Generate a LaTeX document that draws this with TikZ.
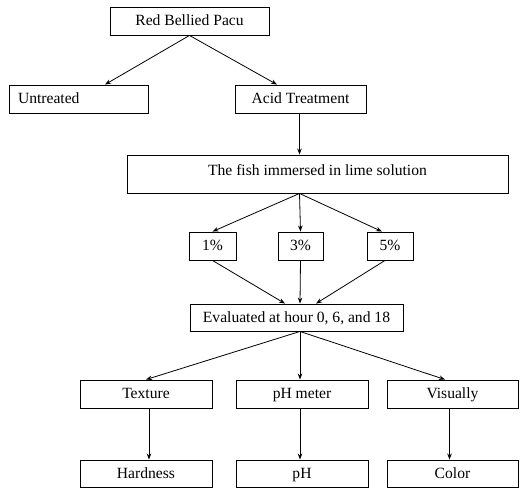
\documentclass[tikz,border=0pt]{standalone}
\usepackage{fontspec}
\setmainfont{Liberation Serif}
\usetikzlibrary{arrows.meta,calc}
\begin{document}
\begin{tikzpicture}[x=1pt,y=-1pt,
  box/.style={draw,line width=0.9pt,minimum height=28pt,inner sep=0pt,text height=12pt,text depth=3pt,font=\fontsize{15.6}{17}\selectfont},
  arr/.style={line width=0.8pt,-{Stealth[length=6pt,width=4.5pt]}}]
\useasboundingbox (0,0) rectangle (520,488);
\node[box,minimum width=159pt] (red) at (189.5,21) {Red Bellied Pacu};
\node[box,minimum width=139pt,text width=121pt,align=left] (unt) at (78.5,99) {Untreated};
\node[box,minimum width=131pt] (acid) at (300.5,99) {Acid Treatment};
\node[box,minimum width=381pt,minimum height=38pt] (fish) at (317.5,174) {\raisebox{3pt}{The fish immersed in lime solution}};
\node[box,minimum width=47pt] (p1) at (212.5,246) {1\%};
\node[box,minimum width=45pt] (p3) at (300.5,246) {3\%};
\node[box,minimum width=46pt] (p5) at (390,246) {5\%};
\node[box,minimum width=213pt,minimum height=27pt] (ev) at (296.5,317.5) {Evaluated at hour 0, 6, and 18};
\node[box,minimum width=132pt] (tex) at (146,394) {Texture};
\node[box,minimum width=132pt] (phm) at (302,394) {pH meter};
\node[box,minimum width=131pt] (vis) at (452.5,394) {Visually};
\node[box,minimum width=132pt,minimum height=27pt] (hard) at (146,473.5) {Hardness};
\node[box,minimum width=132pt,minimum height=27pt] (ph) at (302,473.5) {pH};
\node[box,minimum width=131pt,minimum height=27pt] (col) at (452.5,473.5) {Color};
\draw[arr] (red.south) -- ([xshift=26.5pt]unt.north);
\draw[arr] (red.south) -- ([xshift=-23.5pt]acid.north);
\draw[arr] ([xshift=-1pt]acid.south) -- ([xshift=-1pt]acid.south |- fish.north);
\coordinate (fs) at ([xshift=-18pt]fish.south);
\draw[arr] (fs) -- (p1.north);
\draw[arr] (fs) -- (p3.north);
\draw[arr] (fs) -- ([xshift=-8pt]p5.north);
\draw[arr] (p1.south) -- ([xshift=-11.5pt]ev.north);
\draw[arr] (p3.south) -- ([xshift=3.5pt]ev.north);
\draw[arr] ([xshift=-5pt]p5.south) -- ([xshift=19.5pt]ev.north);
\coordinate (es) at ([xshift=3.5pt]ev.south);
\draw[arr] (es) -- (tex.north);
\draw[arr] (es) -- ([xshift=-2pt]phm.north);
\draw[arr] (es) -- ([xshift=-7.5pt]vis.north);
\draw[arr] ([xshift=3pt]tex.south) -- ([xshift=3pt]hard.north);
\draw[arr] ([xshift=-2pt]phm.south) -- ([xshift=-2pt]ph.north);
\draw[arr] ([xshift=-3pt]vis.south) -- ([xshift=-3pt]col.north);
\end{tikzpicture}
\end{document}
